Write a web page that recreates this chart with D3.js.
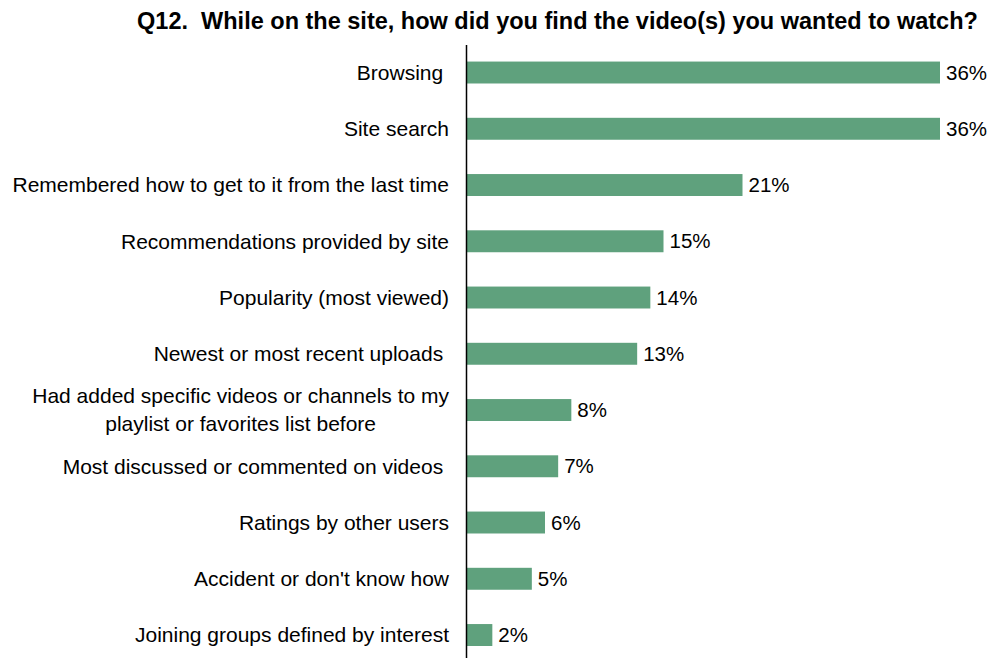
<!DOCTYPE html>
<html>
<head>
<meta charset="utf-8">
<script src="https://cdn.jsdelivr.net/npm/d3@7"></script>
<style>
  html, body { margin: 0; padding: 0; background: #fff; }
  svg { display: block; }
  text { font-family: "Liberation Sans", Arial, sans-serif; fill: #000; white-space: pre; }
</style>
</head>
<body>
<svg id="chart" width="991" height="658"></svg>
<script>
// Survey answers (percent of respondents)
const title = "Q12.  While on the site, how did you find the video(s) you wanted to watch?";
const categories = [
  "Browsing ",
  "Site search",
  "Remembered how to get to it from the last time",
  "Recommendations provided by site",
  "Popularity (most viewed)",
  "Newest or most recent uploads ",
  "Had added specific videos or channels to my|playlist or favorites list before",
  "Most discussed or commented on videos ",
  "Ratings by other users",
  "Accident or don't know how",
  "Joining groups defined by interest"
];
const values = [36, 36, 21, 15, 14, 13, 8, 7, 6, 5, 2];

const data = categories.map((c, i) => ({ category: c, value: values[i] }));

const svg = d3.select("#chart");
const axisX = 466;

const x = d3.scaleLinear().domain([0, 36]).range([axisX, 940]);
const y = d3.scaleBand()
  .domain(categories)
  .range([44.4, 663.15])
  .paddingInner(0.61)
  .paddingOuter(0.305);

// Title
svg.append("text")
  .attr("x", 557.5)
  .attr("y", 29)
  .attr("text-anchor", "middle")
  .style("font-weight", "bold")
  .style("font-size", "23.5px")
  .text(title);

// Bars
svg.append("g")
  .selectAll("rect")
  .data(data)
  .join("rect")
  .attr("x", x(0))
  .attr("y", d => y(d.category))
  .attr("width", d => x(d.value) - x(0))
  .attr("height", y.bandwidth())
  .attr("fill", "#5fa17d");

// Value labels
svg.append("g")
  .selectAll("text")
  .data(data)
  .join("text")
  .attr("x", d => x(d.value) + 6)
  .attr("y", d => y(d.category) + y.bandwidth() / 2)
  .attr("dy", "0.35em")
  .style("font-size", "20.5px")
  .text(d => d.value + "%");

// Category axis
const axis = d3.axisLeft(y).tickSize(0).tickPadding(17).tickFormat("");
const gAxis = svg.append("g")
  .attr("transform", `translate(${axisX},0)`)
  .call(axis);
gAxis.select(".domain").attr("stroke", "#000").attr("stroke-width", 1.5);

// Category labels (multi-line labels are centred within their block)
gAxis.selectAll(".tick").each(function (d) {
  const lines = d.split("|");
  const t = d3.select(this).select("text")
    .style("font-size", "21px")
    .attr("fill", "#000")
    .text(null);
  if (lines.length === 1) {
    t.attr("x", -17).attr("dy", "0.35em").attr("text-anchor", "end").text(lines[0]);
  } else {
    const lh = 28;
    const spans = lines.map((ln, i) =>
      t.append("tspan").text(ln)
        .attr("y", (i - (lines.length - 1) / 2) * lh)
        .attr("dy", "0.35em"));
    const wMax = d3.max(spans, s => s.node().getComputedTextLength());
    t.attr("text-anchor", "middle");
    spans.forEach(s => s.attr("x", -17 - wMax / 2));
  }
});
</script>
</body>
</html>
